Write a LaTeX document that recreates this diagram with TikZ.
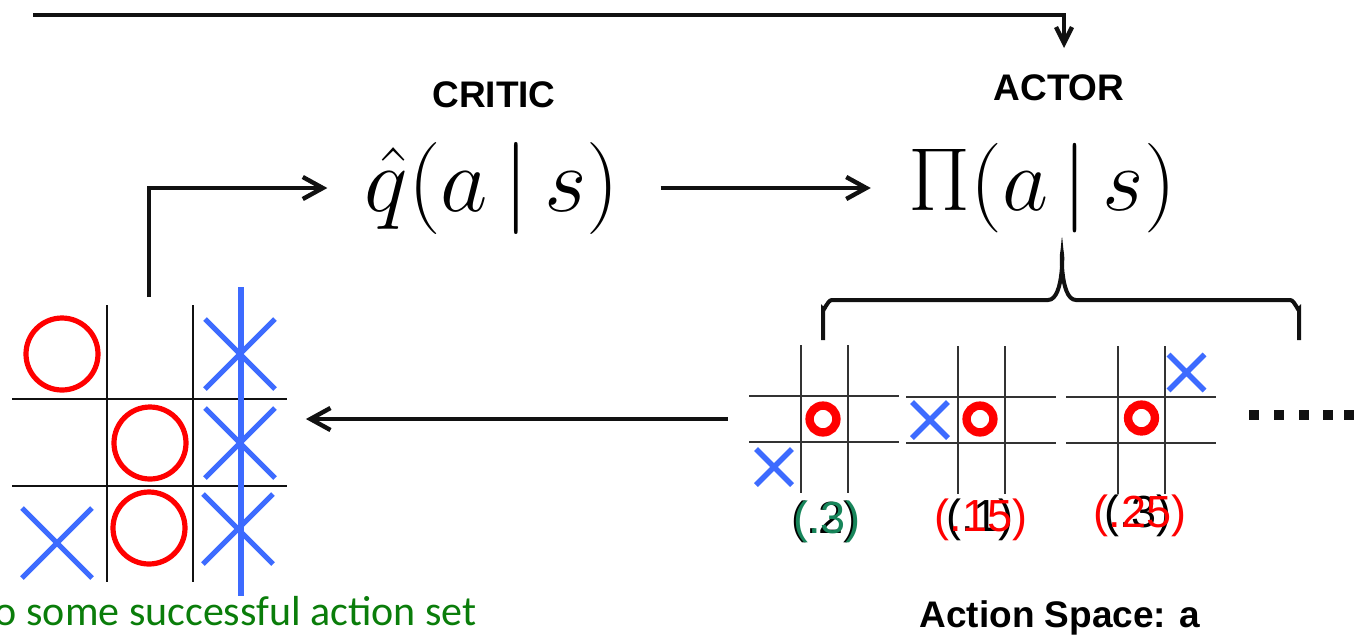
\documentclass[tikz,border=0pt]{standalone}
\usepackage{graphicx}
\usepackage{fontspec}
\setsansfont{Liberation Sans}
\newfontfamily\calibri{Carlito}
\usetikzlibrary{arrows.meta, calc}
\definecolor{ink}{HTML}{111111}
\definecolor{ored}{HTML}{FF0000}
\definecolor{xblue}{HTML}{3D6BFF}
\definecolor{okgreen}{HTML}{0A7D0A}
\definecolor{probgreen}{HTML}{17855A}

\begin{document}
\begin{tikzpicture}[x=0.5pt, y=-0.5pt,
  font=\sffamily,
  title/.style={font=\fontsize{18.5}{22}\selectfont\bfseries\sffamily, inner sep=0pt},
  formula/.style={font=\fontsize{24.88}{28}\selectfont, inner sep=0pt},
  prob/.style={font=\fontsize{22.5}{26}\selectfont\sffamily, anchor=base, inner sep=0pt},
  arr/.style={-{Straight Barb[length=10pt, width=11pt]}, line width=2.2pt, ink},
  bigline/.style={line width=1.3pt, ink},
  smallline/.style={line width=1pt, black!80},
  omark/.style={draw=ored, line width=2.6pt},
  xmark/.style={draw=xblue, line width=2.6pt},
  cell/.style={minimum width=75pt, minimum height=74pt, inner sep=0pt}
]
  \useasboundingbox (0,0) rectangle (1354,634);

  % Top — critic and actor
  \node[title] (critic) at (494,95) {CRITIC};
  \node[title] (actor) at (1059,88) {ACTOR};
  \node[formula] (qhat) at (492,188) {\scalebox{1.85}{$\hat{q}(a\,|\,s)$}};
  \node[formula] (policy) at (1042,188) {\scalebox{1.8}{$\Pi(a\,|\,s)$}};

  % Left — current board
  \node[minimum width=137.5pt, minimum height=138.5pt, inner sep=0pt] (board) at (150,443) {};
  \draw[bigline] (107,305) -- (107,582) (193,305) -- (193,582)
                 (12,399) -- (287,399) (12,486) -- (287,486);
  \foreach \cx/\cy in {62/354, 150/443, 149/528}
    \draw[omark] (\cx,\cy) circle[radius=18pt];
  \foreach \cx/\cy in {240/354, 240/443, 238/529, 57/543}
    \draw[xmark] (\cx-35,\cy-35) -- (\cx+35,\cy+35) (\cx-35,\cy+35) -- (\cx+35,\cy-35);
  \draw[xmark] (241,287) -- (241,596);
  \node[font=\calibri\fontsize{21}{25}\selectfont, text=okgreen, anchor=base east, inner sep=0pt] (note) at (477,625) {o some successful action set};

  % Right — action space
  \foreach \bx/\by [count=\i] in {824/419, 981/420, 1141/420} {
    \node[cell] (b\i) at (\bx,\by) {};
    \draw[smallline] (\bx-23.5,\by-74) -- (\bx-23.5,\by+74) (\bx+23.5,\by-74) -- (\bx+23.5,\by+74)
                     (\bx-75,\by-23) -- (\bx+75,\by-23) (\bx-75,\by+23) -- (\bx+75,\by+23);
  }
  \foreach \cx/\cy in {823/419, 980/419, 1141.5/418}
    \draw[omark, line width=4.2pt] (\cx,\cy) circle[radius=6.7pt];
  \foreach \cx/\cy in {774/467, 930/420, 1186.5/372.5}
    \draw[xmark, line width=2.8pt] (\cx-18,\cy-18) -- (\cx+18,\cy+18) (\cx-18,\cy+18) -- (\cx+18,\cy-18);
  \foreach \dx in {1254,1279,1304,1328,1349}
    \fill[ink] (\dx-5,410) rectangle (\dx+5,420);

  \node[prob] (p1) at (825,533) {(.2)};
  \node[prob, text=probgreen] (p1b) at (827,533) {(.3)};
  \node[prob] (p2) at (980,531) {(.1)};
  \node[prob, text=ored] (p2b) at (981,531) {(.15)};
  \node[prob] (p3) at (1138,527) {(.3)};
  \node[prob, text=ored] (p3b) at (1140,527) {(.25)};
  \node[title, anchor=base] (space) at (1060,627) {Action Space: a};

  % brace under the policy
  \draw[line width=2pt, ink] (823,340) -- (823,309) to[out=-90,in=180] (832,300) -- (1048,300)
       to[out=0,in=90] (1062,258) to[out=90,in=180] (1076,300) -- (1290,300)
       to[out=0,in=-90] (1299,309) -- (1299,340);

  % arrows
  \coordinate (feed) at (33,15);
  \coordinate (feedend) at (1064,48);
  \draw[arr, -{Straight Barb[length=8pt, width=8pt]}] (feed) -| (feedend);
  \coordinate (boardtop) at (149,297);
  \draw[arr] (boardtop) |- ([xshift=-18.5pt]qhat.west);
  \draw[arr] ([xshift=20.5pt]qhat.east) -- ([xshift=-18.5pt]policy.west);
  \draw[arr] ([xshift=-10.5pt]b1.west) -- ([xshift=9pt]b1.west -| board.east);
\end{tikzpicture}
\end{document}
